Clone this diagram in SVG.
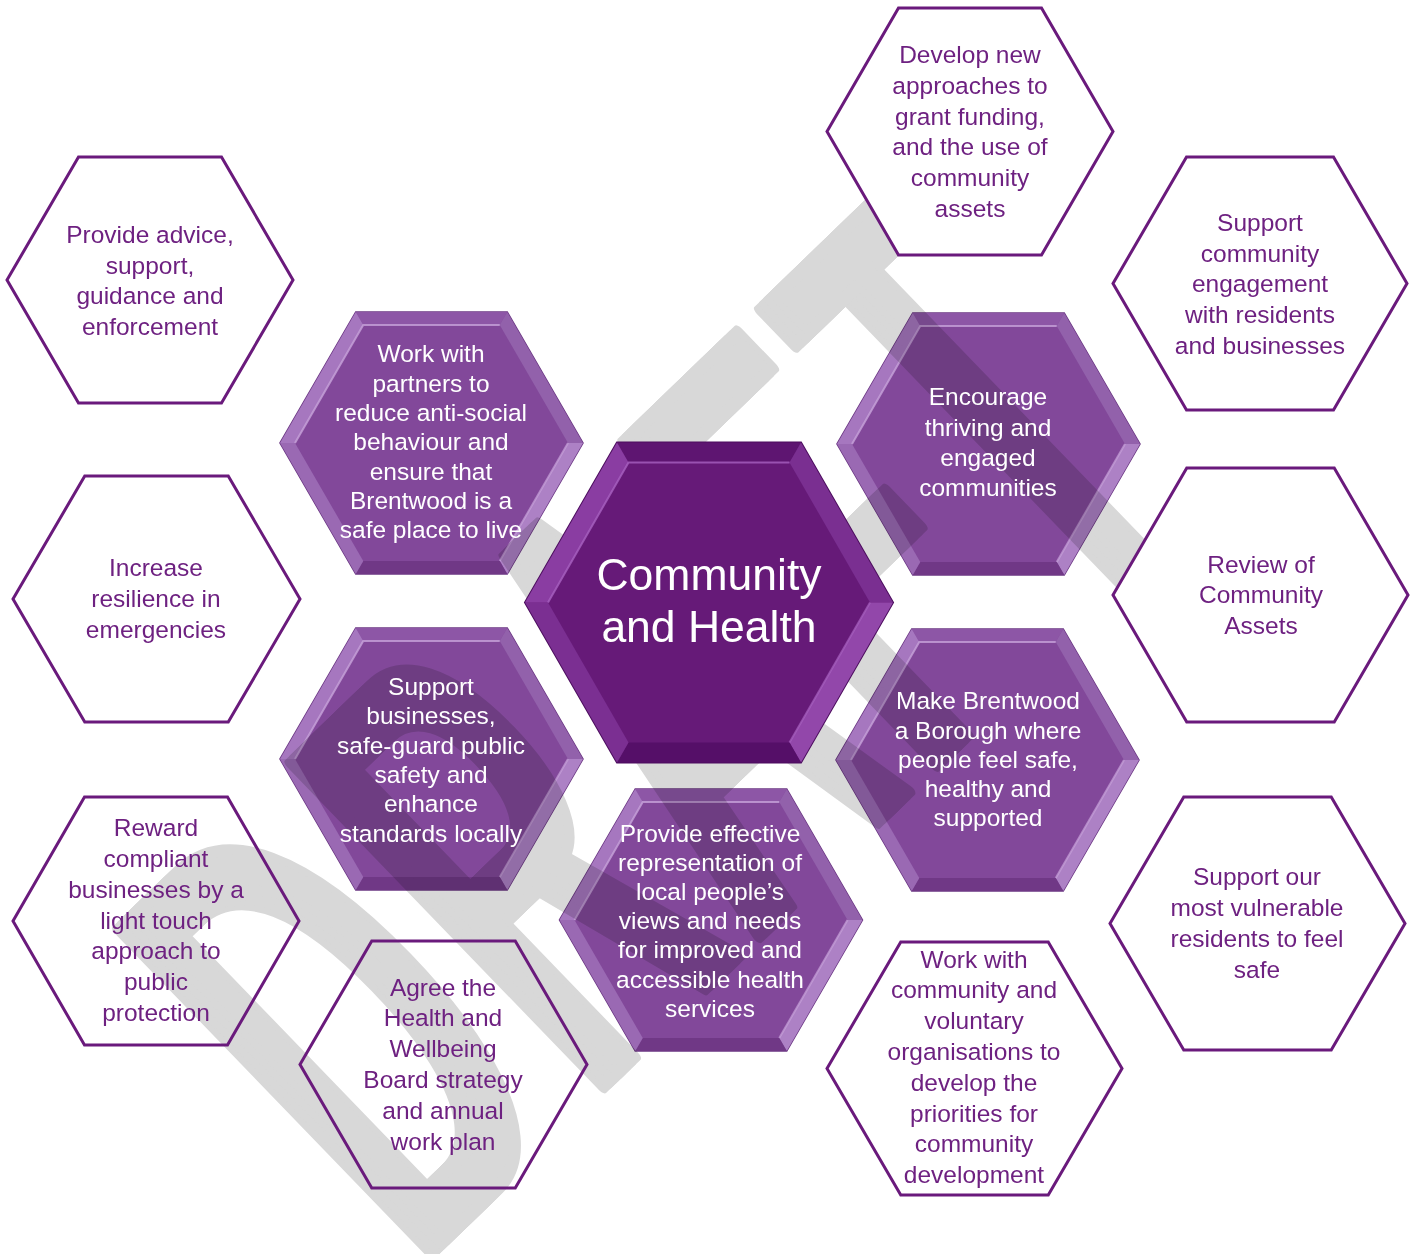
<svg xmlns="http://www.w3.org/2000/svg" xmlns:xlink="http://www.w3.org/1999/xlink" width="1416" height="1254" viewBox="0 0 1416 1254">
  <style>
    .ol { fill: none; stroke: #6a1a7c; stroke-width: 3; stroke-linejoin: miter; }
    .olw { fill: #ffffff; stroke: #6a1a7c; stroke-width: 3; }
    .tp { font-family: "Liberation Sans", Arial, sans-serif; font-size: 24.5px; fill: #6e2181; text-anchor: middle; }
    .tw { font-family: "Liberation Sans", Arial, sans-serif; font-size: 24.5px; fill: #ffffff; text-anchor: middle; }
    .tc { font-family: "Liberation Sans", Arial, sans-serif; font-size: 44.5px; fill: #ffffff; text-anchor: middle; }
    .mult { mix-blend-mode: multiply; }
    .wm { font-family: "Liberation Sans", Arial, sans-serif; font-size: 290px; letter-spacing: 30px; }
  </style>
  <defs>
    <!-- watermark word, drawn several times with a small horizontal shift to thicken the stems -->
    <text id="wmText" class="wm" x="0" y="0">DRAFT</text>

    <!-- bevelled purple hexagon, centred on the origin -->
    <g id="hexP">
      <polygon points="-151.5,0 -75.75,-131 75.75,-131 151.5,0 75.75,131 -75.75,131" fill="#82489a" stroke="#6b3783" stroke-width="1.5"/>
      <polygon points="-75.75,-131 75.75,-131 68.25,-118 -68.25,-118" fill="#8d56a6"/>
      <polygon points="75.75,-131 151.5,0 136.5,0 68.25,-118" fill="#9261ab"/>
      <polygon points="151.5,0 75.75,131 68.25,118 136.5,0" fill="#ad81c5"/>
      <polygon points="75.75,131 -75.75,131 -68.25,118 68.25,118" fill="#703886"/>
      <polygon points="-75.75,131 -151.5,0 -136.5,0 -68.25,118" fill="#9a69b3"/>
      <polygon points="-151.5,0 -75.75,-131 -68.25,-118 -136.5,0" fill="#a677bf"/>
      <polyline points="-136.5,0 -68.25,-118 68.25,-118" fill="none" stroke="#c7a2da" stroke-width="2" opacity="0.8"/>
      <polyline points="136.5,0 68.25,118" fill="none" stroke="#c7a2da" stroke-width="2" opacity="0.7"/>
    </g>
  </defs>

  <rect x="0" y="0" width="1416" height="1254" fill="#ffffff"/>

  <!-- watermark -->
  <g id="watermark" fill="#d8d8d8" stroke="#d8d8d8" stroke-width="6" stroke-linejoin="round" transform="translate(412,1271) rotate(-44) scale(1,2.25)">
    <use xlink:href="#wmText" x="0"/>
    <use xlink:href="#wmText" x="7"/>
    <use xlink:href="#wmText" x="14"/>
    <use xlink:href="#wmText" x="21"/>
  </g>

  <!-- no connectors are drawn between the hexagons -->
  <g id="connectors"/>

  <!-- outer ring: outlined hexagons -->
  <g id="advice">
    <polygon class="ol" points="7,280 78.5,157 221.5,157 293,280 221.5,403 78.5,403"/>
    <text class="tp"><tspan x="150" y="243">Provide advice,</tspan><tspan x="150" y="273.5">support,</tspan><tspan x="150" y="304">guidance and</tspan><tspan x="150" y="335">enforcement</tspan></text>
  </g>
  <g id="grant">
    <polygon class="olw" points="827,131.5 898.5,8 1041.5,8 1113,131.5 1041.5,255 898.5,255"/>
    <text class="tp"><tspan x="970" y="63">Develop new</tspan><tspan x="970" y="94">approaches to</tspan><tspan x="970" y="124.5">grant funding,</tspan><tspan x="970" y="155">and the use of</tspan><tspan x="970" y="186">community</tspan><tspan x="970" y="216.5">assets</tspan></text>
  </g>
  <g id="engagement">
    <polygon class="ol" points="1113,283.5 1186.5,157 1333.5,157 1407,283.5 1333.5,410 1186.5,410"/>
    <text class="tp"><tspan x="1260" y="231">Support</tspan><tspan x="1260" y="262">community</tspan><tspan x="1260" y="292">engagement</tspan><tspan x="1260" y="323">with residents</tspan><tspan x="1260" y="354">and businesses</tspan></text>
  </g>
  <g id="resilience">
    <polygon class="ol" points="13,599 84.75,476 228.25,476 300,599 228.25,722 84.75,722"/>
    <text class="tp"><tspan x="156" y="576">Increase</tspan><tspan x="156" y="607">resilience in</tspan><tspan x="156" y="638">emergencies</tspan></text>
  </g>
  <g id="assets">
    <polygon class="olw" points="1113,595 1186.75,468 1334.25,468 1408,595 1334.25,722 1186.75,722"/>
    <text class="tp"><tspan x="1261" y="573">Review of</tspan><tspan x="1261" y="603">Community</tspan><tspan x="1261" y="634">Assets</tspan></text>
  </g>
  <g id="reward">
    <polygon class="ol" points="13,921 84.5,797 227.5,797 299,921 227.5,1045 84.5,1045"/>
    <text class="tp"><tspan x="156" y="836">Reward</tspan><tspan x="156" y="867">compliant</tspan><tspan x="156" y="898">businesses by a</tspan><tspan x="156" y="929">light touch</tspan><tspan x="156" y="959">approach to</tspan><tspan x="156" y="990">public</tspan><tspan x="156" y="1021">protection</tspan></text>
  </g>
  <g id="wellbeing">
    <polygon class="ol" points="300,1064.5 371.75,941 515.25,941 587,1064.5 515.25,1188 371.75,1188"/>
    <text class="tp"><tspan x="443" y="996">Agree the</tspan><tspan x="443" y="1026">Health and</tspan><tspan x="443" y="1057">Wellbeing</tspan><tspan x="443" y="1088">Board strategy</tspan><tspan x="443" y="1119">and annual</tspan><tspan x="443" y="1150">work plan</tspan></text>
  </g>
  <g id="voluntary">
    <polygon class="ol" points="827,1068.5 900.75,942 1048.25,942 1122,1068.5 1048.25,1195 900.75,1195"/>
    <text class="tp"><tspan x="974" y="968">Work with</tspan><tspan x="974" y="998">community and</tspan><tspan x="974" y="1029">voluntary</tspan><tspan x="974" y="1060">organisations to</tspan><tspan x="974" y="1091">develop the</tspan><tspan x="974" y="1122">priorities for</tspan><tspan x="974" y="1152">community</tspan><tspan x="974" y="1183">development</tspan></text>
  </g>
  <g id="vulnerable">
    <polygon class="ol" points="1110,923.5 1183.75,797 1331.25,797 1405,923.5 1331.25,1050 1183.75,1050"/>
    <text class="tp"><tspan x="1257" y="885">Support our</tspan><tspan x="1257" y="916">most vulnerable</tspan><tspan x="1257" y="947">residents to feel</tspan><tspan x="1257" y="978">safe</tspan></text>
  </g>

  <!-- inner ring: bevelled purple hexagons -->
  <g id="antisocial">
    <use class="mult" xlink:href="#hexP" transform="translate(431.5,443)"/>
    <text class="tw"><tspan x="431" y="362">Work with</tspan><tspan x="431" y="392">partners to</tspan><tspan x="431" y="421">reduce anti-social</tspan><tspan x="431" y="450">behaviour and</tspan><tspan x="431" y="480">ensure that</tspan><tspan x="431" y="509">Brentwood is a</tspan><tspan x="431" y="538">safe place to live</tspan></text>
  </g>
  <g id="thriving">
    <use class="mult" xlink:href="#hexP" transform="translate(988.5,444)"/>
    <text class="tw"><tspan x="988" y="405">Encourage</tspan><tspan x="988" y="436">thriving and</tspan><tspan x="988" y="466">engaged</tspan><tspan x="988" y="496">communities</tspan></text>
  </g>
  <g id="businesses">
    <use class="mult" xlink:href="#hexP" transform="translate(431.5,759)"/>
    <text class="tw"><tspan x="431" y="695">Support</tspan><tspan x="431" y="724">businesses,</tspan><tspan x="431" y="754">safe-guard public</tspan><tspan x="431" y="783">safety and</tspan><tspan x="431" y="812">enhance</tspan><tspan x="431" y="842">standards locally</tspan></text>
  </g>
  <g id="safe">
    <use class="mult" xlink:href="#hexP" transform="translate(987.5,760)"/>
    <text class="tw"><tspan x="988" y="709">Make Brentwood</tspan><tspan x="988" y="739">a Borough where</tspan><tspan x="988" y="768">people feel safe,</tspan><tspan x="988" y="797">healthy and</tspan><tspan x="988" y="826">supported</tspan></text>
  </g>
  <g id="health">
    <use class="mult" xlink:href="#hexP" transform="translate(711,920)"/>
    <text class="tw"><tspan x="710" y="842">Provide effective</tspan><tspan x="710" y="871">representation of</tspan><tspan x="710" y="900">local people’s</tspan><tspan x="710" y="929">views and needs</tspan><tspan x="710" y="958">for improved and</tspan><tspan x="710" y="988">accessible health</tspan><tspan x="710" y="1017">services</tspan></text>
  </g>

  <!-- centre hexagon -->
  <g id="centre">
    <polygon points="525,602.5 617,442.5 801,442.5 893,602.5 801,762.5 617,762.5" fill="#661a78" stroke="#4c0d5e" stroke-width="2"/>
    <polygon points="617,442.5 801,442.5 789.5,462.5 628.5,462.5" fill="#5e1571"/>
    <polygon points="801,442.5 893,602.5 870,602.5 789.5,462.5" fill="#7a2f91"/>
    <polygon points="893,602.5 801,762.5 789.5,742.5 870,602.5" fill="#9247aa"/>
    <polygon points="801,762.5 617,762.5 628.5,742.5 789.5,742.5" fill="#550f68"/>
    <polygon points="617,762.5 525,602.5 548,602.5 628.5,742.5" fill="#7b2f92"/>
    <polygon points="525,602.5 617,442.5 628.5,462.5 548,602.5" fill="#8a3da2"/>
    <polyline points="548,602.5 628.5,462.5 789.5,462.5" fill="none" stroke="#a862c0" stroke-width="2" opacity="0.8"/>
    <polyline points="870,602.5 789.5,742.5" fill="none" stroke="#a862c0" stroke-width="2" opacity="0.7"/>
    <text class="tc"><tspan x="709" y="590">Community</tspan><tspan x="709" y="642">and Health</tspan></text>
  </g>
</svg>
